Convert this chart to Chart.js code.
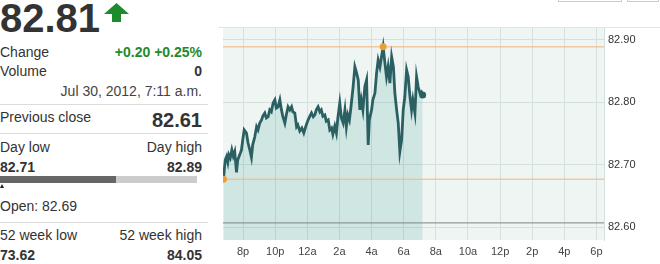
<!DOCTYPE html>
<html>
<head>
<meta charset="UTF-8">
<title></title>
<script src="https://cdn.jsdelivr.net/npm/chart.js@4.4.0/dist/chart.umd.min.js"></script>
<style>
*{margin:0;padding:0}
body{width:660px;height:264px;overflow:hidden;background:#fff;position:relative;
	font-family:Arial,"Liberation Sans",sans-serif;color:#333}
.row{position:absolute;left:0;width:202px;font-size:14px;line-height:16px;height:16px}
.row .r{position:absolute;right:0;top:0}
.b{font-weight:bold}
.sep{position:absolute;left:0;width:208px;height:1px;background:#dcdcdc}
#price{position:absolute;left:0;top:-2px;font-size:40px;line-height:40px;font-weight:bold;color:#333}
#arrow{position:absolute;left:104px;top:2px}
#bar1{position:absolute;left:0;top:176px;width:116px;height:7px;background:#666}
#bar2{position:absolute;left:116px;top:176px;width:81px;height:7px;background:#ccc}
#tri{position:absolute;left:0;top:184px;width:0;height:0;border-left:2px solid transparent;border-right:2px solid transparent;border-bottom:4px solid #222}
#topline{position:absolute;left:218px;top:27px;width:442px;height:1px;background:#dfe5e2}
.btn{position:absolute;top:-4px;height:5px;border:1px solid #ccc;border-top:none}
#wrap{position:absolute;left:215px;top:0;width:445px;height:264px}
</style>
</head>
<body>
<div id="price">82.81</div>
<svg id="arrow" width="26" height="22">
	<polygon points="12.5,1 25,12 17,12 17,20 8,20 8,12 0,12" fill="#1e8a2e"/>
</svg>
<div class="row" style="top:44px">Change<span class="r b" style="color:#238a2c">+0.20 +0.25%</span></div>
<div class="row" style="top:63px">Volume<span class="r b">0</span></div>
<div class="row" style="top:83px"><span class="r" style="color:#444">Jul 30, 2012, 7:11 a.m.</span></div>
<div class="sep" style="top:104px"></div>
<div class="row" style="top:109px">Previous close<span class="r b" style="font-size:20px;line-height:24px;top:-1px">82.61</span></div>
<div class="sep" style="top:133px"></div>
<div class="row" style="top:139px">Day low<span class="r">Day high</span></div>
<div class="row b" style="top:159px">82.71<span class="r">82.89</span></div>
<div id="bar1"></div><div id="bar2"></div><div id="tri"></div>
<div class="row" style="top:198px">Open: 82.69</div>
<div class="sep" style="top:222px"></div>
<div class="row" style="top:227px">52 week low<span class="r">52 week high</span></div>
<div class="row b" style="top:247px">73.62<span class="r">84.05</span></div>

<div class="btn" style="left:558px;width:62px"></div>
<div class="btn" style="left:627px;width:30px"></div>
<div id="topline"></div>
<div id="wrap"><canvas id="c" width="445" height="264"></canvas></div>

<script>
// hours after 8 p.m.
var hours = [-1.22,-1.17,-1.11,-1.03,-0.95,-0.89,-0.80,-0.70,-0.61,-0.52,
	-0.41,-0.33,-0.21,-0.10,-0.02,0.07,0.21,0.31,0.42,0.52,
	0.60,0.73,0.84,0.93,1.04,1.15,1.23,1.35,1.45,1.56,
	1.66,1.76,1.87,1.98,2.07,2.18,2.29,2.39,2.47,2.60,
	2.69,2.80,2.91,3.02,3.10,3.22,3.33,3.41,3.53,3.66,
	3.78,3.91,4.05,4.16,4.26,4.37,4.47,4.56,4.67,4.78,
	4.87,4.97,5.09,5.18,5.30,5.40,5.51,5.59,5.71,5.81,
	5.90,6.02,6.12,6.23,6.34,6.43,6.52,6.62,6.71,6.85,
	6.96,7.05,7.17,7.27,7.36,7.46,7.58,7.69,7.79,7.86,
	8.00,8.08,8.21,8.31,8.41,8.52,8.62,8.72,8.83,8.93,
	9.03,9.14,9.25,9.36,9.45,9.56,9.66,9.76,9.87,9.97,
	10.07,10.18,10.28,10.39,10.49,10.57,10.70,10.80,10.90,11.01,
	11.10,11.18];
var prices = [82.677,82.692,82.708,82.713,82.704,82.716,82.711,82.724,82.714,82.721,
	82.688,82.708,82.716,82.724,82.740,82.756,82.751,82.735,82.724,82.712,
	82.732,82.745,82.761,82.756,82.767,82.772,82.778,82.783,82.775,82.777,
	82.788,82.785,82.799,82.804,82.791,82.793,82.804,82.788,82.778,82.767,
	82.780,82.793,82.788,82.793,82.785,82.783,82.761,82.764,82.754,82.759,
	82.751,82.762,82.772,82.778,82.783,82.777,82.780,82.788,82.793,82.785,
	82.788,82.778,82.780,82.770,82.772,82.756,82.759,82.749,82.762,82.751,
	82.775,82.799,82.775,82.767,82.788,82.761,82.780,82.772,82.791,82.825,
	82.857,82.849,82.836,82.788,82.804,82.788,82.825,82.836,82.732,82.772,
	82.788,82.804,82.815,82.847,82.868,82.857,82.873,82.889,82.863,82.841,
	82.857,82.831,82.873,82.857,82.815,82.788,82.767,82.721,82.740,82.788,
	82.809,82.852,82.841,82.809,82.788,82.804,82.783,82.841,82.825,82.815,
	82.817,82.812];

var tickHours = [0,2,4,6,8,10,12,14,16,18,20,22];
var tickLabels = ['8p','10p','12a','2a','4a','6a','8a','10a','12p','2p','4p','6p'];
var priceTicks = [82.6,82.7,82.8,82.9];

var highLine = 82.889;
var lowLine = 82.677;
var prevClose = 82.607;

var xMin = -1.25, xMax = 22.47;
var yMin = 82.5796, yMax = 82.9192;

var pts = hours.map(function(h,i){ return {x:h, y:prices[i]}; });
var hiIdx = prices.indexOf(Math.max.apply(null, prices));

function flat(v){ return [{x:xMin,y:v},{x:xMax,y:v}]; }

// light plot background
var bgPlugin = {
	id:'bg',
	beforeDraw:function(chart){
		var a = chart.chartArea, ctx = chart.ctx;
		ctx.save();
		ctx.fillStyle = '#eef5f2';
		ctx.fillRect(a.left, a.top, a.right-a.left, a.bottom-a.top);
		ctx.restore();
	}
};

new Chart(document.getElementById('c'), {
	type:'line',
	data:{
		datasets:[
			{data:[pts[pts.length-1]], showLine:false, pointRadius:3.5, pointBackgroundColor:'#2b5f60', pointBorderWidth:0},
			{data:[pts[0], pts[hiIdx]], showLine:false, pointRadius:3.5, pointBackgroundColor:'#eb9f35', pointBorderWidth:0},
			{data:pts, borderColor:'#2b6062', borderWidth:2.8, pointRadius:0, tension:0,
				fill:'start', backgroundColor:'rgba(20,140,135,0.14)'},
			{data:flat(highLine), borderColor:'#f1b57a', borderWidth:1, pointRadius:0},
			{data:flat(lowLine), borderColor:'#f1b57a', borderWidth:1, pointRadius:0},
			{data:flat(prevClose), borderColor:'#7d8582', borderWidth:1, pointRadius:0}
		]
	},
	options:{
		responsive:false,
		animation:false,
		layout:{padding:{left:8, top:28, right:0, bottom:0}},
		plugins:{legend:{display:false}, tooltip:{enabled:false}, filler:{drawTime:'beforeDatasetsDraw'}},
		scales:{
			x:{
				type:'linear', min:xMin, max:xMax,
				afterBuildTicks:function(s){ s.ticks = tickHours.map(function(v){ return {value:v}; }); },
				afterFit:function(s){ s.height = 24; },
				grid:{color:'#d3e0dc', drawTicks:false},
				border:{display:false},
				ticks:{autoSkip:false, maxRotation:0, padding:5, color:'#444',
					font:{family:'Arial, "Liberation Sans"', size:11},
					callback:function(v){ return tickLabels[tickHours.indexOf(v)]; }}
			},
			y:{
				position:'right', min:yMin, max:yMax,
				afterBuildTicks:function(s){ s.ticks = priceTicks.map(function(v){ return {value:v}; }); },
				afterFit:function(s){ s.width = 56; },
				grid:{color:'#d3e0dc', drawTicks:false},
				border:{display:true, color:'#d3e0dc'},
				ticks:{padding:4, color:'#333',
					font:{family:'Arial, "Liberation Sans"', size:11},
					callback:function(v){ return v.toFixed(2); }}
			}
		}
	},
	plugins:[bgPlugin]
});
</script>
</body>
</html>
